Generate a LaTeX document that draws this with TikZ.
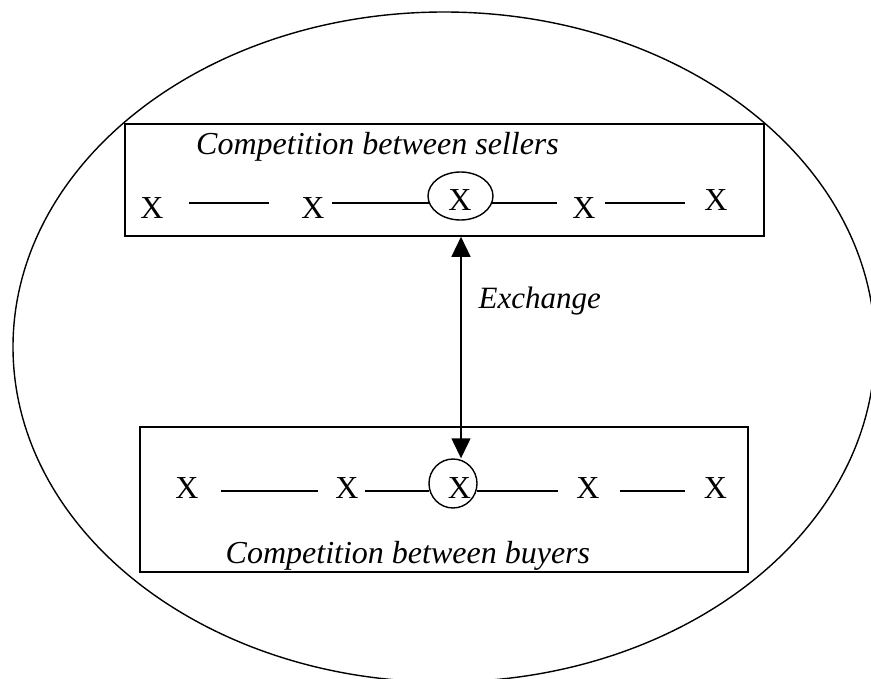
\documentclass[tikz,border=0pt]{standalone}
\usepackage{fontspec}
\setmainfont{Liberation Serif}
\usetikzlibrary{arrows.meta,shapes.geometric}
\begin{document}
\begin{tikzpicture}[x=1pt,y=-1pt,line width=1.4pt,
  xmark/.style={inner sep=0pt,anchor=base,font=\fontsize{32}{36}\selectfont},
  lbl/.style={inner sep=0pt,font=\fontsize{32}{36}\selectfont\itshape,anchor=base west},
  ring/.style={draw,ellipse,inner sep=0pt},
  box/.style={draw,line width=1.6pt,inner sep=0pt}]
\useasboundingbox (0,0) rectangle (871,679);
% outer ellipse
\draw (444,347) ellipse [x radius=431, y radius=335];
% boxes
\node[box, minimum width=639pt, minimum height=112pt] (topbox) at (444.5,180) {};
\node[box, minimum width=608pt, minimum height=145pt] (botbox) at (444,499.5) {};
% labels
\node[lbl] (ts) at (195.5,155) {Competition between sellers};
\node[lbl] (bs) at (225,563) {Competition between buyers};
\node[lbl,font=\fontsize{31}{36}\selectfont\itshape] (ex) at (478,309) {Exchange};
% top row
\node[xmark] (t1) at (152,219) {X};
\node[xmark] (t2) at (313,219) {X};
\node[xmark] (t3) at (460,211) {X};
\node[xmark] (t4) at (584,219) {X};
\node[xmark] (t5) at (716,211) {X};
\node[ring, minimum width=65pt, minimum height=48pt] (tr) at (460.5,196) {};
\coordinate (a1) at (188.5,203); \coordinate (a2) at (269,203);
\coordinate (a3) at (332,203);
\coordinate (a4) at (557,203);
\coordinate (a5) at (605,203); \coordinate (a6) at (685,203);
\draw (a1) -- (a2);
\draw (a3) -- (a3 -| tr.193);
\draw (a4 -| tr.-13) -- (a4);
\draw (a5) -- (a6);
% bottom row
\node[xmark] (b1) at (187,498) {X};
\node[xmark] (b2) at (347,498) {X};
\node[xmark] (b3) at (459.5,498) {X};
\node[xmark] (b4) at (588,498) {X};
\node[xmark] (b5) at (715.5,498) {X};
\node[ring, minimum width=48pt, minimum height=49pt] (br) at (453,483.5) {};
\coordinate (c1) at (220.6,491); \coordinate (c2) at (317.7,491);
\coordinate (c3) at (364.6,491);
\coordinate (c4) at (557.6,491);
\coordinate (c5) at (619.6,491); \coordinate (c6) at (685,491);
\draw (c1) -- (c2);
\draw (c3) -- (c3 -| br.198);
\draw (c4 -| br.-18) -- (c4);
\draw (c5) -- (c6);
% exchange arrow
\coordinate (ax) at (461,0);
\draw[{Triangle[width=19pt,length=20pt]}-{Triangle[width=19pt,length=20pt]}] (topbox.south -| ax) -- (br.north -| ax);
\end{tikzpicture}
\end{document}
